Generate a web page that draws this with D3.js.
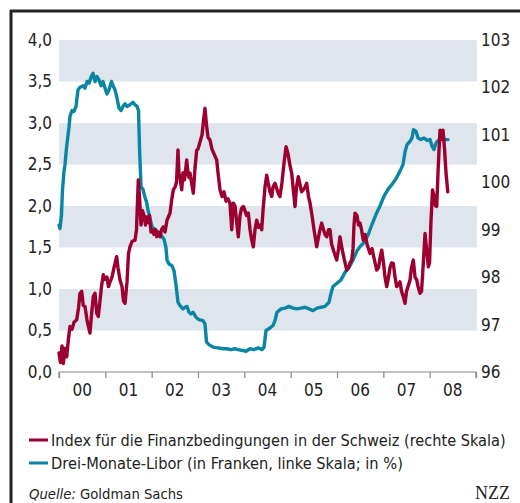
<!DOCTYPE html>
<html><head><meta charset="utf-8">
<script src="https://cdn.jsdelivr.net/npm/d3@7"></script>
<style>
html,body{margin:0;padding:0;background:#fff;}
svg{display:block;}
.lab{font-family:"Liberation Sans Narrow","DejaVu Sans Condensed","Roboto Condensed",sans-serif;fill:#222;}
</style></head>
<body>
<svg id="c" width="520" height="503"></svg>
<script>
// ---- data ----
const xTickYears = [2000,2001,2002,2003,2004,2005,2006,2007,2008,2009];
const xLabels = ["00","01","02","03","04","05","06","07","08"];
const leftTicks = [0,0.5,1,1.5,2,2.5,3,3.5,4];
const rightTicks = [96,97,98,99,100,101,102,103];
const bands = [[0.5,1],[1.5,2],[2.5,3],[3.5,4]];
const legendLabels = ["Index für die Finanzbedingungen in der Schweiz (rechte Skala)","Drei-Monate-Libor (in Franken, linke Skala; in %)"];

// Drei-Monate-Libor, [year, %]
const libor = [
[2000.000,1.77],[2000.022,1.73],[2000.054,1.9],[2000.076,2.2],[2000.108,2.42],[2000.130,2.5],[2000.162,2.7],[2000.194,2.85],[2000.216,2.95],[2000.237,3.08],
[2000.281,3.15],[2000.324,3.14],[2000.367,3.2],[2000.410,3.4],[2000.453,3.43],[2000.518,3.45],[2000.561,3.42],[2000.604,3.5],[2000.648,3.48],[2000.691,3.55],
[2000.734,3.6],[2000.777,3.5],[2000.820,3.56],[2000.863,3.52],[2000.907,3.45],[2000.950,3.5],[2000.993,3.42],[2001.036,3.35],[2001.079,3.4],[2001.133,3.5],
[2001.166,3.45],[2001.209,3.4],[2001.252,3.3],[2001.295,3.18],[2001.338,3.15],[2001.381,3.2],[2001.425,3.23],[2001.468,3.2],[2001.532,3.22],[2001.597,3.25],
[2001.640,3.22],[2001.684,3.2],[2001.716,3.15],[2001.738,2.7],[2001.770,2.23],[2001.813,2.2],[2001.856,2.1],[2001.889,2.05],[2001.921,1.95],[2001.964,1.85],
[2002.007,1.75],[2002.072,1.72],[2002.137,1.68],[2002.202,1.65],[2002.266,1.6],[2002.309,1.5],[2002.331,1.35],[2002.374,1.3],[2002.439,1.28],[2002.482,1.22],
[2002.525,1.05],[2002.568,0.84],[2002.612,0.8],[2002.676,0.76],[2002.720,0.78],[2002.763,0.79],[2002.806,0.72],[2002.849,0.7],[2002.892,0.72],[2002.957,0.66],
[2003.022,0.63],[2003.108,0.62],[2003.151,0.58],[2003.184,0.36],[2003.238,0.33],[2003.324,0.3],[2003.432,0.29],[2003.540,0.28],[2003.626,0.28],[2003.712,0.27],
[2003.799,0.28],[2003.864,0.27],[2003.950,0.26],[2004.036,0.25],[2004.123,0.28],[2004.209,0.27],[2004.295,0.29],[2004.382,0.27],[2004.425,0.3],[2004.468,0.5],
[2004.554,0.53],[2004.619,0.56],[2004.662,0.62],[2004.705,0.72],[2004.792,0.76],[2004.878,0.77],[2004.964,0.79],[2005.051,0.77],[2005.137,0.76],[2005.223,0.77],
[2005.310,0.78],[2005.396,0.76],[2005.482,0.74],[2005.569,0.77],[2005.655,0.78],[2005.741,0.79],[2005.828,0.84],[2005.871,0.95],[2005.914,1.03],[2006.000,1.07],
[2006.087,1.11],[2006.173,1.2],[2006.259,1.26],[2006.346,1.35],[2006.432,1.46],[2006.497,1.51],[2006.583,1.56],[2006.669,1.65],[2006.756,1.78],[2006.842,1.9],
[2006.928,2.0],[2007.015,2.12],[2007.101,2.2],[2007.187,2.26],[2007.274,2.33],[2007.360,2.42],[2007.425,2.5],[2007.468,2.65],[2007.511,2.74],[2007.576,2.78],
[2007.619,2.82],[2007.652,2.92],[2007.705,2.9],[2007.749,2.82],[2007.813,2.8],[2007.878,2.82],[2007.943,2.79],[2008.008,2.8],[2008.051,2.72],[2008.094,2.68],
[2008.137,2.76],[2008.202,2.8],[2008.267,2.83],[2008.331,2.8],[2008.396,2.8]
];

// Index für die Finanzbedingungen, [year, index]
const fci = [
[2000.000,96.4],[2000.032,96.2],[2000.065,96.55],[2000.093,96.18],[2000.130,96.5],[2000.166,96.32],[2000.201,96.67],[2000.237,96.96],[2000.281,96.9],[2000.324,97.05],
[2000.382,97.1],[2000.421,97.35],[2000.453,97.66],[2000.490,97.7],[2000.524,97.4],[2000.561,97.38],[2000.604,97.1],[2000.637,96.95],[2000.669,96.82],[2000.701,97.2],
[2000.740,97.59],[2000.777,97.66],[2000.814,97.24],[2000.848,97.17],[2000.885,97.5],[2000.917,97.8],[2000.956,98.05],[2000.993,97.95],[2001.036,98.0],[2001.068,97.8],
[2001.101,97.9],[2001.144,98.0],[2001.187,98.2],[2001.245,98.43],[2001.273,98.2],[2001.317,97.94],[2001.360,97.8],[2001.392,97.5],[2001.425,97.45],[2001.468,97.9],
[2001.500,98.5],[2001.532,98.64],[2001.576,98.75],[2001.640,98.78],[2001.673,99.0],[2001.694,99.6],[2001.712,100.05],[2001.738,99.7],[2001.770,99.1],[2001.802,99.4],
[2001.835,99.3],[2001.867,99.1],[2001.893,99.27],[2001.921,99.15],[2001.953,99.3],[2001.986,98.95],[2002.018,99.0],[2002.050,98.9],[2002.083,99.0],[2002.109,98.85],
[2002.137,98.95],[2002.180,98.85],[2002.212,99.0],[2002.251,99.06],[2002.288,98.95],[2002.331,99.2],[2002.374,99.3],[2002.396,99.35],[2002.428,99.6],[2002.467,99.84],
[2002.504,99.9],[2002.536,100.0],[2002.568,100.68],[2002.590,100.2],[2002.612,100.1],[2002.648,99.84],[2002.676,100.2],[2002.709,100.05],[2002.756,100.47],[2002.784,100.2],
[2002.806,100.1],[2002.828,100.19],[2002.860,100.0],[2002.899,99.77],[2002.935,100.3],[2002.972,100.68],[2003.000,100.7],[2003.043,100.85],[2003.087,101.0],[2003.119,101.3],
[2003.151,101.56],[2003.184,101.2],[2003.216,100.95],[2003.259,100.89],[2003.302,100.7],[2003.346,100.6],[2003.404,100.47],[2003.432,100.2],[2003.475,99.84],[2003.518,99.7],
[2003.561,99.8],[2003.605,99.6],[2003.648,99.65],[2003.691,99.56],[2003.728,99.0],[2003.762,99.56],[2003.799,99.5],[2003.831,99.2],[2003.870,98.85],[2003.907,99.3],
[2003.939,99.45],[2003.978,99.49],[2004.015,99.4],[2004.047,99.3],[2004.086,99.35],[2004.123,99.0],[2004.155,98.8],[2004.194,98.64],[2004.230,99.0],[2004.267,99.2],
[2004.306,99.05],[2004.338,99.1],[2004.375,99.0],[2004.403,99.4],[2004.446,99.9],[2004.483,100.15],[2004.511,100.0],[2004.554,99.8],[2004.591,99.7],[2004.619,99.9],
[2004.662,99.98],[2004.705,99.85],[2004.738,99.75],[2004.770,99.7],[2004.813,100.0],[2004.856,100.4],[2004.900,100.75],[2004.943,100.6],[2004.986,100.35],[2005.023,100.19],
[2005.061,99.8],[2005.094,99.49],[2005.126,99.9],[2005.165,100.12],[2005.202,99.95],[2005.234,99.8],[2005.273,99.84],[2005.310,99.9],[2005.346,99.98],[2005.385,99.7],
[2005.418,99.56],[2005.461,99.3],[2005.504,99.0],[2005.562,98.64],[2005.601,98.85],[2005.633,99.0],[2005.670,99.14],[2005.709,99.0],[2005.741,98.9],[2005.778,98.85],
[2005.817,99.0],[2005.849,99.0],[2005.882,98.7],[2005.914,98.6],[2005.946,98.5],[2005.994,98.36],[2006.033,98.6],[2006.065,98.85],[2006.108,98.6],[2006.151,98.4],
[2006.210,98.15],[2006.249,98.2],[2006.281,98.3],[2006.318,98.36],[2006.346,98.6],[2006.367,99.1],[2006.389,99.35],[2006.432,99.3],[2006.464,99.1],[2006.497,99.14],
[2006.529,99.0],[2006.568,98.78],[2006.605,98.9],[2006.648,98.7],[2006.680,98.6],[2006.713,98.5],[2006.756,98.6],[2006.799,98.4],[2006.857,98.15],[2006.896,98.2],
[2006.928,98.4],[2006.965,98.57],[2007.004,98.3],[2007.036,98.0],[2007.073,97.8],[2007.112,98.0],[2007.144,98.2],[2007.177,98.3],[2007.216,98.29],[2007.252,98.0],
[2007.289,97.8],[2007.328,97.85],[2007.360,97.9],[2007.393,97.7],[2007.431,97.59],[2007.468,97.45],[2007.500,97.7],[2007.533,97.8],[2007.576,97.94],[2007.608,98.2],
[2007.647,98.36],[2007.684,98.0],[2007.721,97.94],[2007.749,97.8],[2007.792,97.66],[2007.824,97.7],[2007.857,98.2],[2007.900,98.92],[2007.932,98.6],[2007.971,98.22],
[2007.997,98.3],[2008.029,99.2],[2008.062,99.84],[2008.094,99.7],[2008.126,99.5],[2008.152,99.49],[2008.180,100.2],[2008.202,100.68],[2008.224,101.1],[2008.256,100.9],
[2008.288,101.1],[2008.321,100.7],[2008.353,100.2],[2008.390,99.8]
];

// ---- drawing ----
const svg = d3.select("#c");
const W = 520, H = 503;
const pLeft = 59, pRight = 477, pTop = 40, pBottom = 372;
const colLibor = "#0a86a4", colFci = "#9c0030", bandCol = "#dfe5ec";

const x = d3.scaleLinear().domain([2000, 2009]).range([pLeft, 476]);
const yL = d3.scaleLinear().domain([0, 4]).range([pBottom, pTop]);
const yR = d3.scaleLinear().domain([96, 103]).range([pBottom, pTop]);

// fit a text element's font size so it spans a given width
function fitWidth(sel, target) {
  const node = sel.node();
  const fs = parseFloat(sel.attr("font-size"));
  const w = node.getComputedTextLength();
  if (w > 0) sel.attr("font-size", (fs * target / w).toFixed(2));
}

// frame
svg.append("line").attr("x1",11).attr("x2",11).attr("y1",10).attr("y2",H).attr("stroke","#222").attr("stroke-width",3);
svg.append("line").attr("x1",10).attr("x2",W).attr("y1",11).attr("y2",11).attr("stroke","#222").attr("stroke-width",3);

// bands
svg.append("g").selectAll("rect").data(bands).join("rect")
  .attr("x", pLeft).attr("width", pRight - pLeft)
  .attr("y", d => yL(d[1])).attr("height", d => yL(d[0]) - yL(d[1]))
  .attr("fill", bandCol);

// left axis
const gl = svg.append("g").attr("transform", `translate(${pLeft},0)`)
  .call(d3.axisLeft(yL).tickValues(leftTicks).tickSize(0).tickPadding(7)
        .tickFormat(d => d3.format(".1f")(d).replace(".", ",")));
gl.select(".domain").remove();
gl.selectAll("text").attr("class","lab").attr("font-size", 17).attr("fill","#222");

// right axis
const gr = svg.append("g").attr("transform", `translate(${pRight},0)`)
  .call(d3.axisRight(yR).tickValues(rightTicks).tickSize(0).tickPadding(4).tickFormat(d3.format("d")));
gr.select(".domain").remove();
gr.selectAll("text").attr("class","lab").attr("font-size", 17).attr("fill","#222");

// x axis
const gx = svg.append("g").attr("transform", `translate(0,${pBottom})`)
  .call(d3.axisBottom(x).tickValues(xTickYears).tickSize(6).tickFormat(""));
gx.select(".domain").attr("d", `M${pLeft},6V0H${x(2009)}V6`).attr("stroke","#888").attr("stroke-width",1.2);
gx.selectAll(".tick line").attr("stroke","#888").attr("stroke-width",1.2);
svg.append("g").selectAll("text").data(xLabels).join("text")
  .attr("class","lab").attr("font-size",17)
  .attr("x", (d,i) => x(xTickYears[i] + 0.5)).attr("y", pBottom + 24)
  .attr("text-anchor","middle").text(d => d);

// lines
const lineL = d3.line().x(d => x(d[0])).y(d => yL(d[1]));
const lineR = d3.line().x(d => x(d[0])).y(d => yR(d[1]));
svg.append("path").datum(libor).attr("d", lineL).attr("fill","none")
  .attr("stroke", colLibor).attr("stroke-width", 3.4).attr("stroke-linejoin","round").attr("stroke-linecap","round");
svg.append("path").datum(fci).attr("d", lineR).attr("fill","none")
  .attr("stroke", colFci).attr("stroke-width", 3.4).attr("stroke-linejoin","round").attr("stroke-linecap","round");

// legend
const legColors = [colFci, colLibor];
const legWidths = [455, 352];
const lg = svg.append("g");
legendLabels.forEach((t, i) => {
  const yy = 440 + i * 23;
  lg.append("line").attr("x1", 29).attr("x2", 48).attr("y1", yy).attr("y2", yy)
    .attr("stroke", legColors[i]).attr("stroke-width", 3);
  const tx = lg.append("text").attr("class","lab").attr("font-size", 17)
    .attr("x", 51).attr("y", yy + 6).text(t);
  fitWidth(tx, legWidths[i]);
});

// footer
const ft = svg.append("text").attr("class","lab").attr("font-size",16).attr("x",29).attr("y",499);
ft.append("tspan").attr("font-style","italic").text("Quelle:");
ft.append("tspan").text(" Goldman Sachs");
fitWidth(ft, 154);
svg.append("text").attr("x",510).attr("y",499).attr("text-anchor","end")
  .attr("font-family","'Liberation Serif','DejaVu Serif',serif").attr("font-size",18).attr("fill","#222").text("NZZ");
</script>
</body></html>
